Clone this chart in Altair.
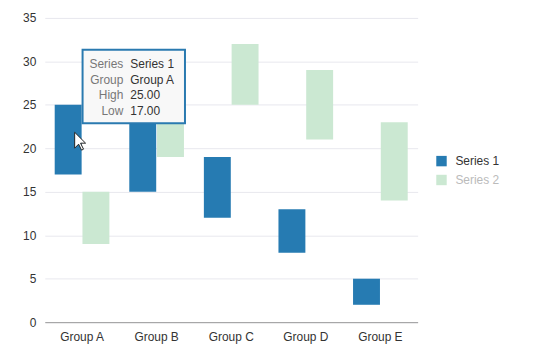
import altair as alt
import pandas as pd

groups = ["Group A", "Group B", "Group C", "Group D", "Group E"]
series = ["Series 1", "Series 2"]
s1_low = [17, 15, 12, 8, 2]
s1_high = [25, 28, 19, 13, 5]
s2_low = [9, 19, 25, 21, 14]
s2_high = [15, 27, 32, 29, 23]
colors = ["#267bb2", "#cbe8d2"]

tip_keys = ["Series", "Group", "High", "Low"]
tip_vals = ["Series 1", "Group A", "25.00", "17.00"]

rows = []
for g, lo, hi in zip(groups, s1_low, s1_high):
    rows.append({"group": g, "series": series[0], "low": lo, "high": hi})
for g, lo, hi in zip(groups, s2_low, s2_high):
    rows.append({"group": g, "series": series[1], "low": lo, "high": hi})
df = pd.DataFrame(rows)

FONT = "Liberation Sans"

bars = alt.Chart(df).mark_bar().encode(
    x=alt.X("group:N", sort=groups, title=None,
            scale=alt.Scale(paddingInner=0.267, paddingOuter=0.133),
            axis=alt.Axis(labelAngle=0, ticks=False, grid=False, domainColor="#999",
                          labelPadding=9, labelColor="#333", labelFontSize=12)),
    xOffset=alt.XOffset("series:N", sort=series, scale=alt.Scale(paddingInner=0.03)),
    y=alt.Y("low:Q", title=None, scale=alt.Scale(domain=[0, 35], nice=False),
            axis=alt.Axis(values=[0, 5, 10, 15, 20, 25, 30, 35], ticks=False, domain=False,
                          gridColor="#e8e8ee", labelPadding=9, labelColor="#333",
                          labelFontSize=12)),
    y2="high:Q",
    color=alt.Color("series:N", sort=series,
                    scale=alt.Scale(domain=series, range=colors),
                    legend=alt.Legend(title=None, orient="none", legendX=393, legendY=138,
                                      symbolType="square", symbolSize=110,
                                      symbolStrokeWidth=0, labelFontSize=12,
                                      rowPadding=7, labelOffset=8,
                                      labelColor={"expr": "datum.label == 'Series 2' ? '#bbbbbb' : '#333333'"})),
)

box = alt.Chart(pd.DataFrame({"a": [0]})).mark_rect(
    fill="#f8f8f8", stroke="#2a7ab0", strokeWidth=2
).encode(x=alt.value(38), x2=alt.value(141), y=alt.value(32), y2=alt.value(106))

layers = [bars, box]
for i, (k, v) in enumerate(zip(tip_keys, tip_vals)):
    yy = 46 + i * 16
    layers.append(alt.Chart(pd.DataFrame({"t": [k]})).mark_text(
        align="right", baseline="middle", fontSize=12, color="#777", font=FONT
    ).encode(text="t:N", x=alt.value(79), y=alt.value(yy)))
    layers.append(alt.Chart(pd.DataFrame({"t": [v]})).mark_text(
        align="left", baseline="middle", fontSize=12, color="#333", font=FONT
    ).encode(text="t:N", x=alt.value(86), y=alt.value(yy)))

cursor_path = "M-0.55,-1 L-0.55,0.78 L-0.11,0.33 L0.22,1 L0.44,0.89 L0.11,0.22 L0.67,0.22 Z"
cursor = alt.Chart(pd.DataFrame({"a": [0]})).mark_point(
    shape=cursor_path, size=324, filled=True, fill="white", stroke="#222",
    strokeWidth=1, opacity=1
).encode(x=alt.value(35), y=alt.value(124))
layers.append(cursor)

chart = alt.layer(*layers).properties(
    width=375, height=306,
    autosize=alt.AutoSizeParams(type="none"),
    padding={"left": 37, "top": 9, "right": 110, "bottom": 26},
).configure(font=FONT).configure_view(stroke=None)

chart.save("out.html", embed_options={"renderer": "svg", "actions": False})
